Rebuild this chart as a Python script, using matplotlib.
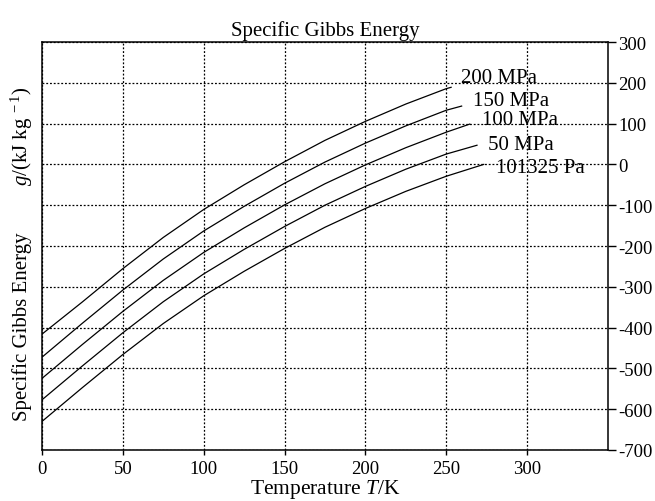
import numpy as np
import matplotlib
matplotlib.use('Agg')
import matplotlib.pyplot as plt

plt.rcParams['font.family'] = ['Liberation Serif', 'DejaVu Serif']
plt.rcParams['mathtext.fontset'] = 'custom'
plt.rcParams['mathtext.rm'] = 'Liberation Serif'
plt.rcParams['mathtext.it'] = 'Liberation Serif:italic'
plt.rcParams['axes.unicode_minus'] = False

# temperatures (K) and specific Gibbs energy (kJ/kg)
T_common = [0, 25, 50, 75, 100, 125, 150, 175, 200, 225, 250]

labels = ['200 MPa', '150 MPa', '100 MPa', '50 MPa', '101325 Pa']
T_end = [253, 259.5, 264.5, 269, 273.16]

g_200MPa = [-416, -337, -255.5, -179, -110.5, -50, 6.5, 59, 105.5, 148, 185.7, 189]
g_150MPa = [-472.5, -389.2, -308, -231.8, -163.2, -102.8, -46.2, 5.8, 52.2, 94.5, 132.8, 143]
g_100MPa = [-524.5, -441.3, -360.3, -284.2, -215.8, -155.6, -99.2, -47.4, -1.2, 41, 79, 98.8]
g_50MPa = [-577, -493.9, -412.7, -336.6, -268.4, -208.3, -152.2, -100, -53.9, -11.7, 25.4, 47]
g_101325Pa = [-630, -547, -466, -390, -322, -262, -206, -154, -108, -66, -29, 0]

series = [g_200MPa, g_150MPa, g_100MPa, g_50MPa, g_101325Pa]

x_ticks = [0, 50, 100, 150, 200, 250, 300]
y_ticks = [300, 200, 100, 0, -100, -200, -300, -400, -500, -600, -700]

# label offsets from the curve ends (points)
label_offsets = [(7, 7), (8, 4), (9, 3), (8, 0.5), (9, -2)]

fig = plt.figure(figsize=(6.55, 5.02), dpi=100)
ax = fig.add_axes([0.0641, 0.1016, 0.8641, 0.8127])

for g, lab, te, off in zip(series, labels, T_end, label_offsets):
    T = T_common + [te]
    ax.plot(T, g, color='black', linewidth=0.9)
    ax.annotate(lab, xy=(T[-1], g[-1]), xytext=off, textcoords='offset points',
                ha='left', va='center', fontsize=15)

ax.set_xlim(0, 350)
ax.set_ylim(-700, 300)
ax.set_xticks(x_ticks)
ax.set_yticks(y_ticks)
ax.yaxis.tick_right()
ax.tick_params(axis='y', direction='out', length=6, width=1, pad=1.5, labelsize=13.5)
ax.tick_params(axis='x', direction='out', length=3.5, width=1, pad=4, labelsize=13.5)

ax.grid(True, color='black', linestyle=(0, (1.5, 1.5)), linewidth=0.9)
for s in ax.spines.values():
    s.set_linewidth(1.1)

ax.set_title('Specific Gibbs Energy', fontsize=15, pad=5)
ax.set_xlabel('Temperature $T$/K', fontsize=15.5, labelpad=0)

fig.text(0.033, 0.35, 'Specific Gibbs Energy', rotation=90, ha='center', va='center', fontsize=15)
fig.text(0.033, 0.728, '$g$/(kJ kg$^{\\ -1}$)', rotation=90, ha='center', va='center', fontsize=15)

fig.savefig('out.png', dpi=100)
